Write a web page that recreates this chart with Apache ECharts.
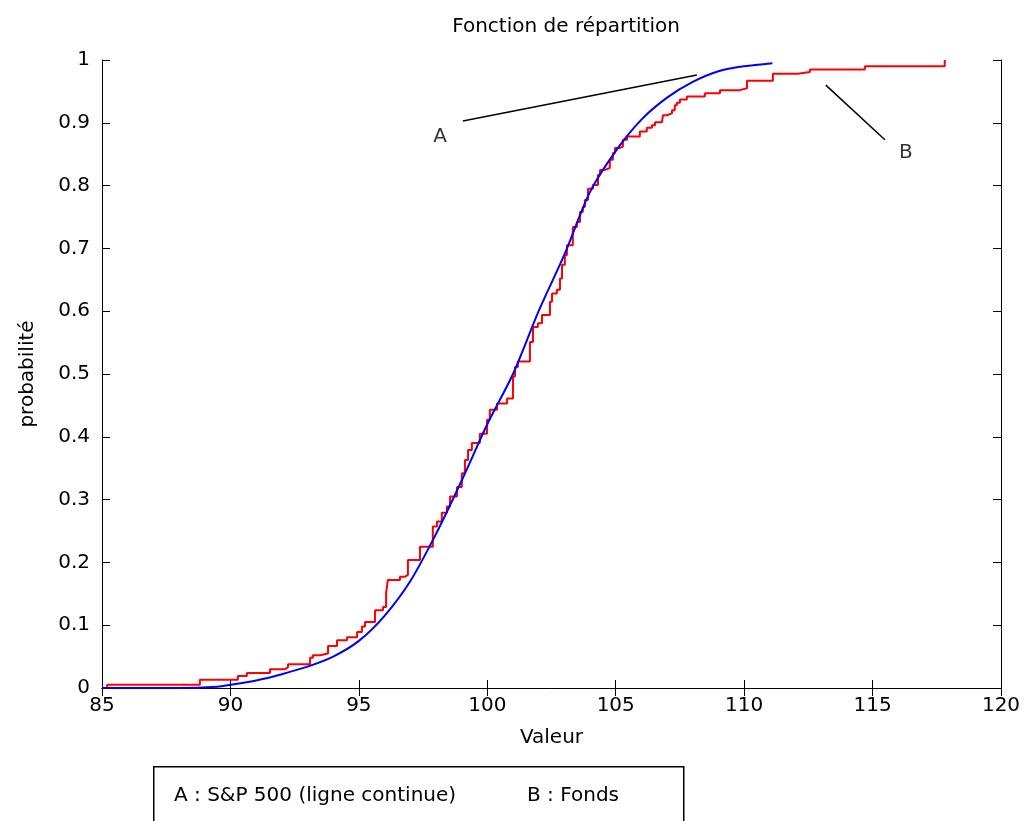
<!DOCTYPE html>
<html>
<head>
<meta charset="utf-8">
<script src="https://cdn.jsdelivr.net/npm/echarts@6/dist/echarts.min.js"></script>
<style>
html,body{margin:0;padding:0;background:#fff;}
#c{width:1026px;height:821px;}
</style>
</head>
<body>
<div id="c"></div>
<script>
// ---- Data ----
const titleText = 'Fonction de répartition';
const xName = 'Valeur';
const yName = 'probabilité';
const xTicks = [85, 90, 95, 100, 105, 110, 115, 120];
const yTicks = [0, 0.1, 0.2, 0.3, 0.4, 0.5, 0.6, 0.7, 0.8, 0.9, 1];

// A : S&P 500 (continuous CDF)
const spX = [85, 88, 89.5, 90, 91, 92, 93, 94, 95, 96, 97, 98, 99, 100, 101, 102, 103, 104, 105, 106, 107, 108, 109, 110, 111.1];
const spY = [0, 0, 0.002, 0.005, 0.012, 0.022, 0.034, 0.05, 0.075, 0.115, 0.17, 0.245, 0.33, 0.42, 0.5, 0.6, 0.69, 0.79, 0.855, 0.905, 0.94, 0.965, 0.982, 0.99, 0.995];

// B : Fonds (empirical step CDF): jump positions and levels after the jump
const fdX = [85.0, 85.2, 88.81, 90.29, 90.64, 91.54, 92.12, 92.24, 93.10, 93.21, 93.49, 93.80, 94.15, 94.54, 94.93, 95.12, 95.24, 95.63, 95.94, 96.06, 96.13, 96.60, 96.79, 96.91, 97.38, 97.88, 98.04, 98.23, 98.43, 98.55, 98.82, 99.01, 99.13, 99.25, 99.40, 99.71, 99.99, 100.10, 100.38, 100.77, 101.00, 101.08, 101.19, 101.66, 101.78, 101.97, 102.13, 102.44, 102.52, 102.71, 102.83, 102.91, 103.02, 103.10, 103.33, 103.49, 103.61, 103.72, 103.80, 103.92, 104.11, 104.31, 104.39, 104.58, 104.77, 104.89, 104.97, 105.16, 105.28, 105.44, 105.94, 106.21, 106.41, 106.53, 106.80, 106.84, 106.99, 107.19, 107.30, 107.38, 107.50, 107.77, 108.47, 109.06, 109.83, 110.11, 111.12, 112.09, 112.56, 114.70, 117.81];
const fdY = [0, 0.005, 0.013, 0.019, 0.024, 0.030, 0.033, 0.038, 0.048, 0.052, 0.055, 0.067, 0.076, 0.081, 0.089, 0.098, 0.105, 0.124, 0.129, 0.151, 0.172, 0.177, 0.180, 0.204, 0.225, 0.257, 0.265, 0.279, 0.289, 0.305, 0.320, 0.342, 0.363, 0.379, 0.390, 0.405, 0.427, 0.443, 0.453, 0.461, 0.496, 0.511, 0.520, 0.551, 0.575, 0.581, 0.594, 0.615, 0.628, 0.634, 0.652, 0.674, 0.689, 0.705, 0.734, 0.742, 0.758, 0.766, 0.777, 0.795, 0.801, 0.817, 0.825, 0.828, 0.841, 0.852, 0.860, 0.862, 0.873, 0.878, 0.886, 0.892, 0.896, 0.901, 0.904, 0.912, 0.915, 0.920, 0.928, 0.932, 0.937, 0.942, 0.947, 0.952, 0.955, 0.967, 0.978, 0.981, 0.985, 0.990, 1.0];

// Annotations
const annLabels = ['A', 'B'];
const annLabelPos = [[98.16, 0.877], [116.3, 0.852]];
const annLines = [[[99.05, 0.903], [108.16, 0.976]], [[113.18, 0.960], [115.48, 0.873]]];
const legendTexts = ['A : S&P 500 (ligne continue)', 'B : Fonds'];

// ---- Chart ----
const FONT = 'DejaVu Sans';
const FS = 20;
const chart = echarts.init(document.getElementById('c'), null, {renderer: 'canvas'});

const axisCommon = {
  type: 'value',
  axisLine: {show: true, lineStyle: {color: '#000', width: 1}},
  axisTick: {show: true, inside: true, length: 8, lineStyle: {color: '#000', width: 1}},
  splitLine: {show: false}
};

const option = {
  backgroundColor: '#fff',
  animation: false,
  title: {
    text: titleText,
    left: 561, top: 12, textAlign: 'center',
    textStyle: {fontFamily: FONT, fontSize: FS, fontWeight: 'normal', color: '#000'}
  },
  grid: {left: 102, top: 60, width: 899, height: 628, containLabel: false},
  xAxis: [
    Object.assign({}, axisCommon, {
      min: xTicks[0], max: xTicks[xTicks.length - 1], interval: 5, position: 'bottom',
      name: xName, nameLocation: 'middle', nameGap: 40,
      nameTextStyle: {fontFamily: FONT, fontSize: FS, color: '#000'},
      axisLabel: {fontFamily: FONT, fontSize: FS, color: '#000', margin: 8}
    }),
    Object.assign({}, axisCommon, {
      min: xTicks[0], max: xTicks[xTicks.length - 1], interval: 5, position: 'top',
      axisLabel: {show: false}
    })
  ],
  yAxis: [
    Object.assign({}, axisCommon, {
      min: yTicks[0], max: yTicks[yTicks.length - 1], interval: 0.1, position: 'left',
      name: yName, nameLocation: 'middle', nameGap: 64,
      nameTextStyle: {fontFamily: FONT, fontSize: FS, color: '#000'},
      axisLabel: {fontFamily: FONT, fontSize: FS, color: '#000', margin: 12}
    }),
    Object.assign({}, axisCommon, {
      min: yTicks[0], max: yTicks[yTicks.length - 1], interval: 0.1, position: 'right',
      axisLabel: {show: false}
    })
  ],
  series: [
    {
      name: 'Fonds', type: 'line', step: 'end', showSymbol: false, symbol: 'none',
      xAxisIndex: 0, yAxisIndex: 0,
      data: fdX.map((x, i) => [x, fdY[i]]),
      lineStyle: {color: '#ff0000', width: 2},
      z: 2
    },
    {
      name: 'S&P 500', type: 'line', smooth: 0.3, showSymbol: false, symbol: 'none',
      xAxisIndex: 0, yAxisIndex: 0,
      data: spX.map((x, i) => [x, spY[i]]),
      lineStyle: {color: '#0000ff', width: 2},
      z: 3,
      markLine: {
        silent: true, symbol: ['none', 'none'], animation: false,
        label: {show: false},
        lineStyle: {color: '#000', width: 1.5, type: 'solid'},
        data: annLines.map(l => [{coord: l[0]}, {coord: l[1]}])
      }
    },
    {
      name: 'annot', type: 'scatter', symbolSize: 0,
      xAxisIndex: 0, yAxisIndex: 0,
      data: annLabels.map((n, i) => ({name: n, value: annLabelPos[i]})),
      label: {show: true, position: 'inside', formatter: '{b}', fontFamily: FONT, fontSize: FS, color: '#000'},
      z: 4
    }
  ],
  graphic: [
    {type: 'rect', left: 153, top: 766, shape: {width: 530, height: 80},
     style: {fill: '#fff', stroke: '#000', lineWidth: 1.5}},
    {type: 'text', left: 174, top: 786,
     style: {text: legendTexts[0], font: FS + 'px "' + FONT + '"', fill: '#000'}},
    {type: 'text', left: 527, top: 786,
     style: {text: legendTexts[1], font: FS + 'px "' + FONT + '"', fill: '#000'}}
  ]
};
chart.setOption(option);
</script>
</body>
</html>
